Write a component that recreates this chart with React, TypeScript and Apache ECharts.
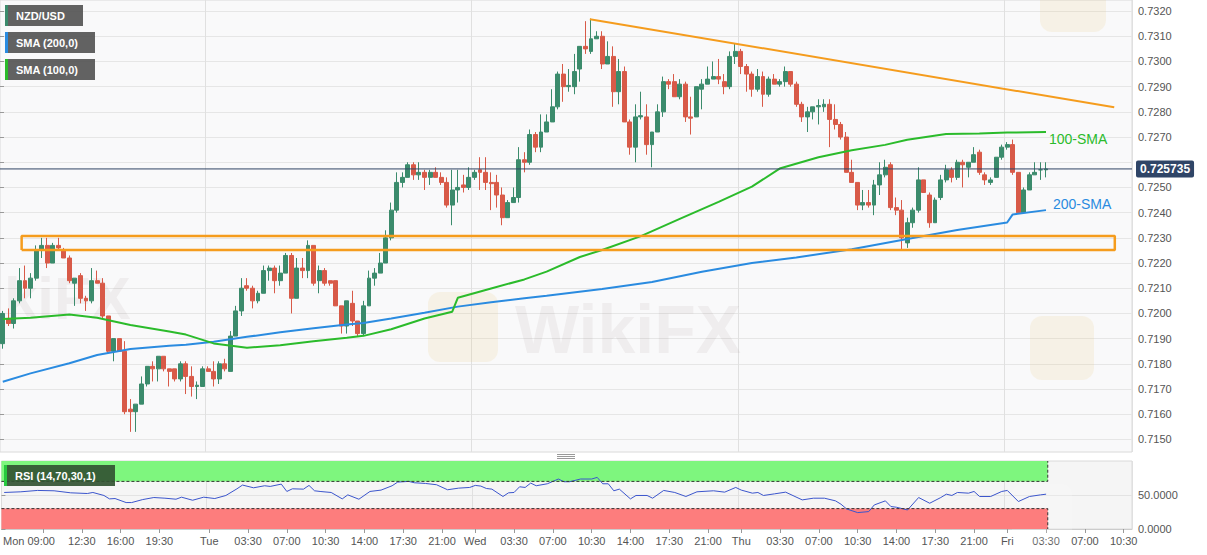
import { useEffect, useRef } from "react";
import * as echarts from "echarts";

// 30-minute NZD/USD bars, Mon 05:30 to Fri 03:30; the axis runs on to Fri 11:30
const dayNames = ["Mon", "Tue", "Wed", "Thu", "Fri"];
const firstBarMinute = 5 * 60 + 30;
const slotCount = 204;

const tickTexts: [string, string][] = [
  ["Mon 09:00", "Mon 09:00"], ["Mon 12:30", "12:30"], ["Mon 16:00", "16:00"], ["Mon 19:30", "19:30"],
  ["Tue 00:00", "Tue"], ["Tue 03:30", "03:30"], ["Tue 07:00", "07:00"], ["Tue 10:30", "10:30"],
  ["Tue 14:00", "14:00"], ["Tue 17:30", "17:30"], ["Tue 21:00", "21:00"],
  ["Wed 00:00", "Wed"], ["Wed 03:30", "03:30"], ["Wed 07:00", "07:00"], ["Wed 10:30", "10:30"],
  ["Wed 14:00", "14:00"], ["Wed 17:30", "17:30"], ["Wed 21:00", "21:00"],
  ["Thu 00:00", "Thu"], ["Thu 03:30", "03:30"], ["Thu 07:00", "07:00"], ["Thu 10:30", "10:30"],
  ["Thu 14:00", "14:00"], ["Thu 17:30", "17:30"], ["Thu 21:00", "21:00"],
  ["Fri 00:00", "Fri"], ["Fri 03:30", "03:30"], ["Fri 07:00", "07:00"], ["Fri 10:30", "10:30"],
];
const dayStarts = ["Tue 00:00", "Wed 00:00", "Thu 00:00", "Fri 00:00"];

const priceTicks = [0.715, 0.716, 0.717, 0.718, 0.719, 0.72, 0.721, 0.722, 0.723, 0.724, 0.725, 0.726, 0.727, 0.728, 0.729, 0.73, 0.731, 0.732];
// 0.7260 sits under the last-price box
const priceLabels = priceTicks.filter((v) => v !== 0.726);
const rsiTicks = [0, 50];
const lastPrice = 0.725735;

// [open, high, low, close]
const ohlc: number[][] = [
  [0.7188, 0.7201, 0.7186, 0.72], [0.7198, 0.7202, 0.7195, 0.7196], [0.7196, 0.7206, 0.7194, 0.7205],
  [0.7205, 0.7218, 0.7204, 0.7213], [0.7213, 0.7219, 0.7206, 0.721], [0.721, 0.7216, 0.7206, 0.7214],
  [0.7214, 0.7227, 0.7213, 0.7225], [0.7225, 0.723, 0.7222, 0.7227], [0.7227, 0.723, 0.7218, 0.722],
  [0.722, 0.7228, 0.722, 0.7227], [0.7227, 0.723, 0.7225, 0.7226], [0.7225, 0.7226, 0.7222, 0.7222],
  [0.7222, 0.7223, 0.7212, 0.7213], [0.7212, 0.7214, 0.7203, 0.7214], [0.7215, 0.7216, 0.7204, 0.7206],
  [0.7206, 0.7207, 0.7201, 0.7205], [0.7205, 0.7218, 0.7204, 0.7213], [0.7213, 0.7217, 0.7212, 0.7212],
  [0.7212, 0.7214, 0.7198, 0.7199], [0.7199, 0.7199, 0.7184, 0.7185], [0.7185, 0.719, 0.7181, 0.719],
  [0.719, 0.719, 0.7185, 0.7185], [0.7185, 0.7189, 0.716, 0.7161], [0.7162, 0.7166, 0.7153, 0.7161],
  [0.7161, 0.7164, 0.7153, 0.7164], [0.7164, 0.7175, 0.7164, 0.7172], [0.7172, 0.7179, 0.7171, 0.7179],
  [0.7179, 0.7181, 0.7173, 0.7178], [0.7178, 0.7183, 0.7173, 0.7183], [0.7183, 0.7183, 0.7177, 0.7178],
  [0.7178, 0.7178, 0.7171, 0.7177], [0.7178, 0.7178, 0.7173, 0.7174], [0.7174, 0.7181, 0.7173, 0.718],
  [0.718, 0.7181, 0.7168, 0.7175], [0.7175, 0.7179, 0.7167, 0.7171], [0.7171, 0.7173, 0.7166, 0.71715],
  [0.7171, 0.7179, 0.7171, 0.7178], [0.7178, 0.7179, 0.7177, 0.7177], [0.7177, 0.7181, 0.7171, 0.7174],
  [0.7174, 0.7181, 0.7172, 0.718], [0.718, 0.7182, 0.7177, 0.7178], [0.7177, 0.7193, 0.7177, 0.7191],
  [0.7191, 0.7203, 0.7191, 0.7201], [0.7201, 0.7214, 0.7199, 0.721], [0.7211, 0.7214, 0.7209, 0.721],
  [0.721, 0.7211, 0.7202, 0.7205], [0.7205, 0.7209, 0.7204, 0.7208], [0.7208, 0.7219, 0.7208, 0.7217],
  [0.7217, 0.7219, 0.7213, 0.7218], [0.7218, 0.7219, 0.7208, 0.7213], [0.7213, 0.7219, 0.7211, 0.7216],
  [0.7216, 0.7224, 0.7216, 0.7223], [0.7223, 0.7224, 0.72, 0.7206], [0.7206, 0.7222, 0.7206, 0.7218],
  [0.7218, 0.7222, 0.7214, 0.7217], [0.7217, 0.7229, 0.7214, 0.7227], [0.7227, 0.7227, 0.7211, 0.7212],
  [0.7213, 0.7219, 0.7208, 0.7217], [0.7217, 0.7218, 0.7211, 0.7212], [0.7213, 0.7213, 0.7211, 0.7212],
  [0.7213, 0.7213, 0.7203, 0.7203], [0.7203, 0.7203, 0.7192, 0.7195], [0.7195, 0.7205, 0.7192, 0.7205],
  [0.7204, 0.7209, 0.7195, 0.7197], [0.7197, 0.7197, 0.7191, 0.7192], [0.7192, 0.7205, 0.7191, 0.7203],
  [0.7203, 0.7217, 0.7203, 0.7214], [0.7214, 0.7218, 0.7211, 0.7216], [0.7216, 0.7224, 0.7216, 0.722],
  [0.722, 0.7233, 0.722, 0.723], [0.723, 0.7244, 0.7229, 0.7241], [0.7241, 0.7256, 0.724, 0.7252],
  [0.7252, 0.7256, 0.725, 0.7254], [0.7254, 0.726, 0.7254, 0.7259], [0.7259, 0.726, 0.7253, 0.7255],
  [0.7255, 0.726, 0.7253, 0.7256], [0.7256, 0.7257, 0.7249, 0.7254], [0.7254, 0.7257, 0.7251, 0.7256],
  [0.7256, 0.7258, 0.7254, 0.7254], [0.7254, 0.7256, 0.7251, 0.7252], [0.7252, 0.7254, 0.7242, 0.7243],
  [0.7243, 0.7257, 0.7235, 0.7249], [0.7249, 0.7257, 0.7244, 0.725], [0.7251, 0.7255, 0.7248, 0.725],
  [0.725, 0.7258, 0.7249, 0.7254], [0.7254, 0.7257, 0.7253, 0.7256], [0.7257, 0.7262, 0.7249, 0.7256],
  [0.7256, 0.7262, 0.7249, 0.7252], [0.7252, 0.7256, 0.7241, 0.72515], [0.7252, 0.7255, 0.7242, 0.7247],
  [0.7247, 0.725, 0.7235, 0.7238], [0.7238, 0.7245, 0.7238, 0.7244], [0.7244, 0.725, 0.7244, 0.7246],
  [0.7246, 0.7266, 0.7244, 0.7261], [0.7261, 0.7264, 0.7256, 0.726], [0.726, 0.7273, 0.7259, 0.7271],
  [0.7271, 0.7272, 0.7264, 0.7266], [0.7266, 0.7279, 0.7264, 0.7272], [0.7272, 0.7279, 0.7272, 0.7276],
  [0.7276, 0.7289, 0.7276, 0.7282], [0.7282, 0.7296, 0.7281, 0.7295], [0.7295, 0.7299, 0.7284, 0.729],
  [0.729, 0.7297, 0.7288, 0.72905], [0.729, 0.7303, 0.7287, 0.7296], [0.7297, 0.7306, 0.7292, 0.7306],
  [0.7306, 0.7316, 0.7303, 0.7305], [0.7304, 0.7317, 0.7303, 0.7309], [0.7309, 0.7312, 0.7309, 0.731],
  [0.731, 0.7312, 0.7297, 0.7299], [0.7299, 0.7308, 0.7299, 0.7302], [0.7302, 0.7306, 0.7282, 0.7288],
  [0.7288, 0.7301, 0.7283, 0.7296], [0.7296, 0.7298, 0.7276, 0.7276], [0.7276, 0.7277, 0.7263, 0.7266],
  [0.7266, 0.7283, 0.726, 0.7278], [0.7278, 0.7288, 0.7277, 0.72785], [0.7278, 0.7283, 0.7263, 0.7267],
  [0.7267, 0.7272, 0.7258, 0.7272], [0.7272, 0.7283, 0.7272, 0.728], [0.728, 0.7294, 0.7278, 0.7292],
  [0.7292, 0.7293, 0.7289, 0.7291], [0.7292, 0.7295, 0.7286, 0.7286], [0.7286, 0.7293, 0.7285, 0.7291],
  [0.7291, 0.7292, 0.7276, 0.7278], [0.7278, 0.7286, 0.7271, 0.72775], [0.7278, 0.729, 0.7278, 0.729],
  [0.7289, 0.7293, 0.7281, 0.7291], [0.7291, 0.7298, 0.7291, 0.7293], [0.7293, 0.73, 0.7293, 0.7294],
  [0.7294, 0.7301, 0.7291, 0.7293], [0.7292, 0.7295, 0.7287, 0.729], [0.729, 0.7304, 0.7289, 0.7302],
  [0.7302, 0.7307, 0.7299, 0.7304], [0.7304, 0.7305, 0.7295, 0.7298], [0.7298, 0.7299, 0.7288, 0.7295],
  [0.7295, 0.7296, 0.7286, 0.7289], [0.7289, 0.7297, 0.7288, 0.7294], [0.7294, 0.7296, 0.7282, 0.7287],
  [0.7287, 0.7294, 0.7286, 0.7293], [0.7293, 0.7295, 0.7291, 0.7291], [0.7291, 0.7293, 0.729, 0.7292],
  [0.7292, 0.7298, 0.729, 0.7296], [0.7296, 0.7296, 0.729, 0.7291], [0.7291, 0.7292, 0.7282, 0.7283],
  [0.7283, 0.7284, 0.7276, 0.7278], [0.7278, 0.7282, 0.7272, 0.728], [0.728, 0.7282, 0.7277, 0.7282],
  [0.7282, 0.7285, 0.7275, 0.72825], [0.7282, 0.7285, 0.728, 0.7283], [0.7283, 0.7285, 0.7266, 0.7277],
  [0.7277, 0.7283, 0.7273, 0.7275], [0.7275, 0.7276, 0.7269, 0.727], [0.727, 0.7272, 0.7256, 0.7256],
  [0.7256, 0.7261, 0.7252, 0.7252], [0.7252, 0.7252, 0.7241, 0.7243], [0.7243, 0.7249, 0.7241, 0.7244],
  [0.7244, 0.7249, 0.7242, 0.7243], [0.7243, 0.7253, 0.7239, 0.7251], [0.7251, 0.726, 0.7247, 0.7255],
  [0.7255, 0.7261, 0.7254, 0.7258], [0.7259, 0.726, 0.7241, 0.7242], [0.7242, 0.7246, 0.7239, 0.7241],
  [0.7241, 0.7245, 0.7225, 0.723], [0.7228, 0.7238, 0.7226, 0.7236], [0.7236, 0.7242, 0.7234, 0.7241],
  [0.7241, 0.7258, 0.724, 0.7253], [0.7253, 0.7253, 0.7248, 0.7248], [0.7247, 0.7248, 0.7234, 0.7236],
  [0.7236, 0.7246, 0.7236, 0.7245], [0.7246, 0.7255, 0.7245, 0.7253], [0.7253, 0.7259, 0.7252, 0.7257],
  [0.7257, 0.7258, 0.7252, 0.7254], [0.7254, 0.7261, 0.7253, 0.726], [0.726, 0.7261, 0.725, 0.7259],
  [0.7258, 0.726, 0.7254, 0.726], [0.726, 0.7266, 0.726, 0.7263], [0.7264, 0.7265, 0.7255, 0.7256],
  [0.7255, 0.7256, 0.7251, 0.7253], [0.7252, 0.7254, 0.7251, 0.7253], [0.7254, 0.7262, 0.7254, 0.7262],
  [0.7262, 0.7267, 0.7261, 0.7266], [0.7266, 0.7268, 0.7265, 0.7267], [0.7267, 0.7269, 0.7255, 0.7256],
  [0.7256, 0.7256, 0.724, 0.724], [0.724, 0.725, 0.724, 0.7249], [0.7249, 0.7256, 0.7249, 0.7255],
  [0.7255, 0.726, 0.7255, 0.7256], [0.7257, 0.726, 0.7253, 0.7257], [0.7257, 0.726, 0.7254, 0.725735],
];

// moving averages at these bar numbers
const sma100Bars = [0, 5, 12, 17, 23, 30, 33, 38, 44, 50, 56, 62, 65, 70, 76, 81, 82, 88, 94, 98, 104, 108, 115, 122, 129, 135, 140, 147, 153, 159, 163, 170, 176, 181, 188];
const sma100Values = [0.71978, 0.71983, 0.71996, 0.71983, 0.71954, 0.71928, 0.71916, 0.71881, 0.71864, 0.71874, 0.7189, 0.71903, 0.71911, 0.71937, 0.7198, 0.72007, 0.72062, 0.72099, 0.72135, 0.72166, 0.72224, 0.72252, 0.72307, 0.72375, 0.72443, 0.72503, 0.72575, 0.7262, 0.72648, 0.72669, 0.72689, 0.72712, 0.72714, 0.72718, 0.7272];
const sma200Bars = [0, 5, 12, 17, 23, 30, 33, 38, 44, 50, 56, 62, 65, 70, 76, 82, 88, 94, 98, 108, 117, 126, 135, 143, 153, 163, 172, 181, 182, 188];
const sma200Values = [0.71729, 0.71762, 0.71802, 0.71835, 0.71859, 0.71872, 0.71876, 0.71888, 0.71907, 0.71925, 0.71941, 0.71956, 0.71962, 0.7198, 0.72003, 0.72027, 0.72044, 0.7206, 0.7207, 0.72097, 0.72125, 0.72165, 0.722, 0.72222, 0.72255, 0.72295, 0.72331, 0.72361, 0.72393, 0.7241];

const rsiBars = [0, 3, 6, 9, 12, 15, 16, 18, 19, 20, 22, 23, 25, 27, 29, 31, 32, 34, 36, 38, 40, 42, 43, 45, 47, 48, 50, 51, 52, 54, 55, 56, 57, 59, 61, 62, 64, 66, 68, 70, 71, 73, 74, 76, 78, 80, 82, 84, 85, 86, 87, 88, 90, 91, 92, 93, 94, 95, 96, 98, 100, 101, 102, 104, 106, 107, 108, 109, 110, 111, 113, 114, 116, 117, 119, 121, 123, 125, 128, 130, 132, 133, 135, 136, 137, 139, 141, 144, 146, 148, 150, 151, 152, 154, 156, 157, 159, 160, 161, 163, 165, 167, 169, 170, 171, 172, 174, 175, 176, 178, 180, 181, 183, 185, 187, 188];
const rsiValues = [53.7, 54.7, 56.7, 56.2, 53.2, 52.2, 53.7, 49.3, 44.3, 44.8, 38.9, 38.9, 43.3, 46.3, 45.3, 43.8, 46.8, 42.3, 46.8, 44.8, 49.3, 59.1, 64.6, 60.6, 63.6, 62.6, 66, 55.2, 59.1, 58.6, 64.1, 56.2, 55.2, 53.7, 44.3, 50.2, 43.8, 55.2, 57.2, 63.6, 69, 70, 68, 67, 65.1, 57.7, 60.1, 61.1, 64.1, 63.1, 59.6, 58.6, 47.8, 53.2, 53.7, 62.1, 61.1, 67.5, 63.6, 66.5, 73.5, 69.5, 69.5, 73.5, 73.5, 75.9, 66.5, 66.5, 56.2, 58.6, 44.3, 49.3, 49.3, 45.3, 56.7, 53.7, 47.8, 54.7, 56.2, 54.2, 61.1, 57.2, 52.7, 53.7, 49.3, 51.7, 54.2, 42.8, 45.3, 45.3, 41.4, 36.4, 29.5, 24.1, 25.6, 35.4, 41.4, 33, 32, 28, 46.3, 37.9, 46.3, 51.2, 49.3, 53.7, 52.7, 55.2, 47.8, 47.8, 55.2, 56.7, 40.4, 47.8, 50.2, 51.2];

// drawn annotations, in bar slots and prices
const trendStart = [106.3, 0.73168];
const trendEnd = [200.8, 0.72818];
const zone = { from: 3.9, to: 200.9, low: 0.72252, high: 0.72307 };

const pad = (n: number) => String(n).padStart(2, "0");
const categories = Array.from({ length: slotCount }, (_, i) => {
  const t = firstBarMinute + 30 * i;
  const m = t % 1440;
  return `${dayNames[Math.floor(t / 1440)]} ${pad(Math.floor(m / 60))}:${pad(m % 60)}`;
});

const UP = "#3b8b6c";
const DOWN = "#d85a48";
const GREEN = "#2bbb2b";
const BLUE = "#2a8be0";
const ORANGE = "#f59c1d";
const FONT = "Liberation Sans, Arial, sans-serif";

// graphic children do not take the group's z, so every piece gets its own
const labelBox = (left: number, top: number, w: number, fill: string, stripe: string, text: string) => ({
  type: "group",
  left,
  top,
  children: [
    { type: "rect", z: 100, shape: { x: 0, y: 0, width: w, height: 21 }, style: { fill } },
    { type: "rect", z: 101, shape: { x: 0, y: 0, width: 3, height: 21 }, style: { fill: stripe } },
    { type: "text", z: 102, x: 11, y: 10.5, style: { text, fill: "#fff", font: `bold 11px ${FONT}`, verticalAlign: "middle" } },
  ],
});

const NZDUSDChart = () => {
  const chartRef = useRef<HTMLDivElement>(null);

  useEffect(() => {
    document.body.style.margin = "0";
    if (!chartRef.current) return;
    const chart = echarts.init(chartRef.current, null, { renderer: "svg" });

    const labelMap = new Map(tickTexts);
    const isTick = (_i: number, v: string) => labelMap.has(v);
    const isDayStart = (_i: number, v: string) => dayStarts.includes(v);
    const bandEnd = ohlc.length - 0.2;
    const watermark = "rgba(110,90,80,0.07)";
    const logoFill = "rgba(235,195,100,0.13)";

    const option: echarts.EChartsOption = {
      animation: false,
      backgroundColor: "#ffffff",
      textStyle: { fontFamily: FONT },
      grid: [
        { left: 0, right: 75, top: 0, height: 452, show: true, backgroundColor: "#f9f9fa", borderColor: "#dadada", borderWidth: 1 },
        { left: 0, right: 75, top: 461, height: 68, show: true, backgroundColor: "#f5f5f5", borderColor: "#dadada", borderWidth: 1 },
      ],
      xAxis: [
        {
          type: "category",
          gridIndex: 0,
          data: categories,
          axisLine: { show: false },
          axisTick: { show: false },
          axisLabel: { show: false },
          splitLine: { show: true, interval: isDayStart, lineStyle: { color: "#e0e0e0" } },
        },
        {
          type: "category",
          gridIndex: 1,
          data: categories,
          axisLine: { lineStyle: { color: "#cccccc" } },
          axisTick: { show: true, interval: isTick, alignWithLabel: true, length: 4, lineStyle: { color: "#999" } },
          axisLabel: {
            interval: isTick,
            color: "#555",
            fontSize: 11,
            margin: 6,
            formatter: (v: string) => (v === "Mon 09:00" ? "{first|Mon 09:00}" : labelMap.get(v) ?? ""),
            rich: { first: { color: "#555", fontSize: 11, padding: [0, 28, 0, 0] } },
          },
          splitLine: { show: true, interval: isDayStart, lineStyle: { color: "#e0e0e0" } },
        },
        { type: "value", gridIndex: 0, min: 0, max: slotCount, show: false },
        { type: "value", gridIndex: 1, min: 0, max: slotCount, show: false },
      ],
      yAxis: [
        {
          type: "value",
          gridIndex: 0,
          position: "right",
          min: 0.7145,
          max: 0.73244,
          axisLine: { show: false },
          axisTick: { show: true, length: 4, customValues: priceTicks, lineStyle: { color: "#999" } },
          axisLabel: { customValues: priceLabels, color: "#555", fontSize: 11, margin: 6, formatter: (v: number) => v.toFixed(4) },
          splitLine: { show: true, lineStyle: { color: "#e6e6e6" } },
        },
        {
          type: "value",
          gridIndex: 1,
          position: "right",
          min: 0,
          max: 100,
          axisLine: { show: false },
          axisTick: { show: true, length: 4, customValues: rsiTicks, lineStyle: { color: "#999" } },
          axisLabel: { customValues: rsiTicks, color: "#555", fontSize: 11, margin: 6, formatter: (v: number) => v.toFixed(4) },
          splitLine: { show: true, lineStyle: { color: "#e3e3e3" } },
        },
      ],
      series: [
        {
          name: "NZD/USD",
          type: "candlestick",
          xAxisIndex: 0,
          yAxisIndex: 0,
          barWidth: "80%",
          data: ohlc.map(([o, h, l, c]) => [o, c, l, h]),
          itemStyle: { color: UP, color0: DOWN, borderColor: UP, borderColor0: DOWN, borderWidth: 1 },
        },
        {
          name: "last price",
          type: "line",
          xAxisIndex: 2,
          yAxisIndex: 0,
          showSymbol: false,
          silent: true,
          z: 4,
          lineStyle: { color: "#2f4464", width: 1 },
          data: [[0, lastPrice], [slotCount, lastPrice]],
          endLabel: {
            show: true,
            distance: 4,
            formatter: lastPrice.toFixed(6),
            color: "#fff",
            fontWeight: "bold",
            fontSize: 12,
            backgroundColor: "#2f4567",
            padding: [3, 4, 2, 4],
            borderRadius: 2,
          },
        },
        {
          name: "SMA (200,0)",
          type: "line",
          xAxisIndex: 2,
          yAxisIndex: 0,
          showSymbol: false,
          lineStyle: { color: BLUE, width: 2 },
          data: sma200Bars.map((b, j) => [b + 0.5, sma200Values[j]]),
        },
        {
          name: "SMA (100,0)",
          type: "line",
          xAxisIndex: 2,
          yAxisIndex: 0,
          showSymbol: false,
          lineStyle: { color: GREEN, width: 2 },
          data: sma100Bars.map((b, j) => [b + 0.5, sma100Values[j]]),
        },
        {
          type: "line",
          xAxisIndex: 2,
          yAxisIndex: 0,
          showSymbol: false,
          silent: true,
          lineStyle: { color: ORANGE, width: 2 },
          data: [trendStart, trendEnd],
        },
        {
          type: "line",
          xAxisIndex: 2,
          yAxisIndex: 0,
          showSymbol: false,
          silent: true,
          lineStyle: { color: ORANGE, width: 2.5 },
          data: [
            [zone.from, zone.low],
            [zone.to, zone.low],
            [zone.to, zone.high],
            [zone.from, zone.high],
            [zone.from, zone.low],
          ],
        },
        {
          name: "RSI",
          type: "line",
          xAxisIndex: 3,
          yAxisIndex: 1,
          showSymbol: false,
          lineStyle: { color: "#3b55cc", width: 1 },
          data: rsiBars.map((b, j) => [b + 0.5, rsiValues[j]]),
          markArea: {
            silent: true,
            itemStyle: { opacity: 1 },
            data: [
              [{ xAxis: 0, yAxis: 70, itemStyle: { color: "#7ef67e" } }, { xAxis: bandEnd, yAxis: 100 }],
              [{ xAxis: 0, yAxis: 0, itemStyle: { color: "#fd7d7d" } }, { xAxis: bandEnd, yAxis: 30 }],
            ],
          },
        },
        {
          type: "line",
          xAxisIndex: 3,
          yAxisIndex: 1,
          showSymbol: false,
          silent: true,
          lineStyle: { color: "#333", width: 1, type: [3, 2] },
          data: [[0, 70], [bandEnd, 70], [bandEnd, 100]],
        },
        {
          type: "line",
          xAxisIndex: 3,
          yAxisIndex: 1,
          showSymbol: false,
          silent: true,
          lineStyle: { color: "#333", width: 1, type: [3, 2] },
          data: [[0, 30], [bandEnd, 30], [bandEnd, 0]],
        },
      ],
      graphic: [
        // faint watermarks
        { type: "rect", z: 1, silent: true, shape: { x: 428, y: 292, width: 70, height: 70, r: 12 }, style: { fill: logoFill } },
        { type: "text", z: 1, silent: true, x: 515, y: 295, style: { text: "WikiFX", fill: watermark, font: `bold 68px ${FONT}` } },
        { type: "text", z: 1, silent: true, x: 4, y: 268, style: { text: "kiFX", fill: watermark, font: `bold 60px ${FONT}` } },
        { type: "rect", z: 1, silent: true, shape: { x: 1030, y: 316, width: 64, height: 64, r: 12 }, style: { fill: logoFill } },
        { type: "rect", z: 1, silent: true, shape: { x: 1040, y: -30, width: 66, height: 62, r: 12 }, style: { fill: logoFill } },
        { type: "rect", z: 1, silent: true, shape: { x: 1012, y: 484, width: 60, height: 60, r: 10 }, style: { fill: "rgba(255,255,255,0.18)" } },
        // moving average captions
        { type: "text", z: 50, x: 1049, y: 139, style: { text: "100-SMA", fill: GREEN, font: `14px ${FONT}`, verticalAlign: "middle" } },
        { type: "text", z: 50, x: 1053, y: 204, style: { text: "200-SMA", fill: BLUE, font: `14px ${FONT}`, verticalAlign: "middle" } },
        // panel splitter handle
        { type: "line", z: 50, shape: { x1: 557, y1: 454.5, x2: 575, y2: 454.5 }, style: { stroke: "#999", lineWidth: 1 } },
        { type: "line", z: 50, shape: { x1: 557, y1: 456.5, x2: 575, y2: 456.5 }, style: { stroke: "#999", lineWidth: 1 } },
        { type: "line", z: 50, shape: { x1: 557, y1: 458.5, x2: 575, y2: 458.5 }, style: { stroke: "#999", lineWidth: 1 } },
        labelBox(5, 5, 78, "rgba(85,85,85,0.92)", UP, "NZD/USD"),
        labelBox(5, 32, 90, "rgba(85,85,85,0.92)", BLUE, "SMA (200,0)"),
        labelBox(5, 59, 90, "rgba(85,85,85,0.92)", GREEN, "SMA (100,0)"),
        labelBox(4, 465, 111, "rgba(50,82,50,0.92)", "#27c93f", "RSI (14,70,30,1)"),
      ],
    };

    chart.setOption(option);
    return () => chart.dispose();
  }, []);

  return <div ref={chartRef} style={{ width: 1207, height: 555 }} />;
};

export default function App() {
  return <NZDUSDChart />;
}
